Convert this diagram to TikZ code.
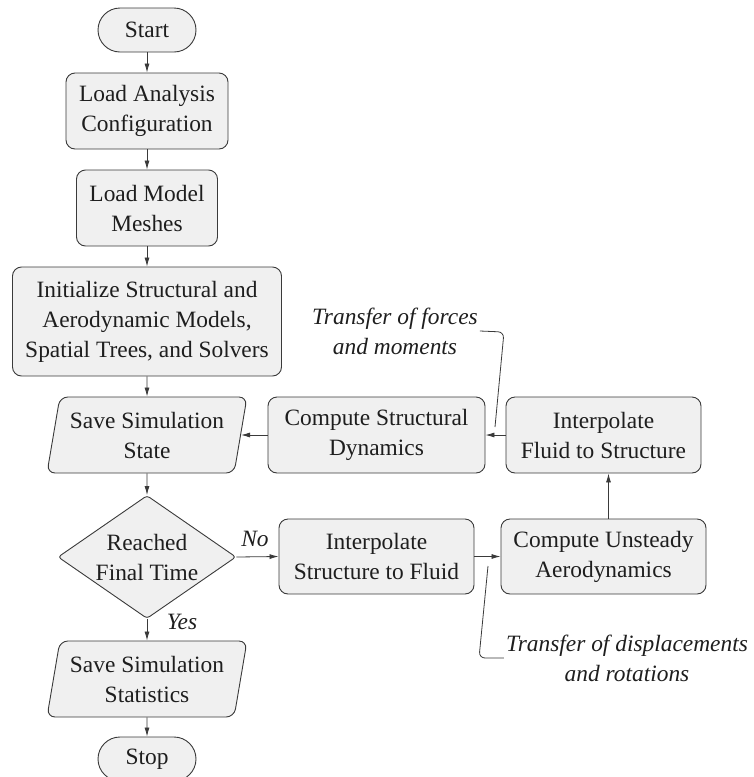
\documentclass[tikz,border=0pt]{standalone}
\usepackage{fontspec}
\newfontfamily\diagfont{LiberationSerif}[Extension=.ttf, UprightFont=*-Regular, ItalicFont=*-Italic, BoldFont=*-Bold]
\usetikzlibrary{arrows.meta,shapes.geometric}

\definecolor{boxfill}{HTML}{F0F0F0}
\definecolor{edge}{HTML}{3A3A3A}
\definecolor{ink}{HTML}{1E1E1E}

\tikzset{
  base/.style={draw=edge, line width=0.9pt, fill=boxfill, text=ink,
    align=center, font=\diagfont\fontsize{23.4}{30}\selectfont, inner sep=4pt},
  terminal/.style={base, rounded corners=22pt, minimum width=98pt, minimum height=44pt},
  process/.style={base, rounded corners=9pt, minimum height=76pt},
  io/.style={base, shape=trapezium, trapezium left angle=76.7, trapezium right angle=103.3,
    trapezium stretches body, rounded corners=8pt, minimum width=200pt, minimum height=76pt},
  decision/.style={base, shape=diamond, aspect=1.45, inner sep=0pt, rounded corners=3pt,
    minimum width=178pt, minimum height=123pt},
  flow/.style={draw=edge, line width=0.8pt, -{Latex[length=9pt,width=5pt]}},
  note/.style={text=ink, align=center, font=\diagfont\fontsize{23.4}{30}\selectfont\itshape, inner sep=2pt},
  callout/.style={draw=edge, line width=0.8pt, rounded corners=6pt},
  branch/.style={text=ink, font=\diagfont\fontsize{23.4}{30}\selectfont\itshape, inner sep=0pt}
}

\begin{document}
\begin{tikzpicture}[x=1pt, y=-1pt]
  \useasboundingbox (0,0) rectangle (754,777);

  % main column
  \node[terminal] (start) at (147,30) {Start};
  \node[process, minimum width=162pt] (cfg) at (147,111) {Load Analysis\\Configuration};
  \node[process, minimum width=141pt] (mesh) at (147,208) {Load Model\\Meshes};
  \node[process, minimum width=269pt, minimum height=109pt] (init) at (147,321.5)
    {Initialize Structural and\\Aerodynamic Models,\\Spatial Trees, and Solvers};
  \node[io] (state) at (147,435) {Save Simulation\\State};
  \node[decision] (final) at (147,557) {Reached\\Final Time};
  \node[io] (stats) at (147,679) {Save Simulation\\Statistics};
  \node[terminal] (stop) at (147,759) {Stop};

  % coupling loop
  \node[process, minimum width=217pt] (csd) at (376.5,435) {Compute Structural\\Dynamics};
  \node[process, minimum width=195pt] (f2s) at (603.5,435) {Interpolate\\Fluid to Structure};
  \node[process, minimum width=195pt, minimum height=75pt] (s2f) at (376.5,556.5) {Interpolate\\Structure to Fluid};
  \node[process, minimum width=205pt, minimum height=75pt] (aero) at (603.5,556.5) {Compute Unsteady\\Aerodynamics};

  % main flow
  \draw[flow] (start) -- (cfg);
  \draw[flow] (cfg) -- (mesh);
  \draw[flow] (mesh) -- (init);
  \draw[flow] (init) -- (state);
  \draw[flow] (state) -- (final);
  \draw[flow] (final) -- (stats);
  \draw[flow] (stats) -- (stop);

  % branches and loop
  \draw[flow] (final.east) -- (s2f.west);
  \draw[flow] (s2f) -- (aero);
  \draw[flow] ([xshift=5pt]aero.north) -- ([xshift=5pt]f2s.south);
  \draw[flow] (f2s) -- (csd);
  \draw[flow] (csd.west) -- (state.east |- csd.west);

  \node[branch] (no) at (255,539) {No};
  \node[branch] (yes) at (182,622) {Yes};

  % transfer annotations
  \node[note] (tforce) at (395,331) {Transfer of forces\\and moments};
  \coordinate (tforceend) at (495,427);
  \draw[callout] (tforce.east) -- (504,332) -- (tforceend);

  \node[note] (tdisp) at (627,658) {Transfer of displacements\\and rotations};
  \coordinate (tdispend) at (488,566);
  \draw[callout] (tdisp.west) -- (479,658) -- (tdispend);
\end{tikzpicture}
\end{document}
